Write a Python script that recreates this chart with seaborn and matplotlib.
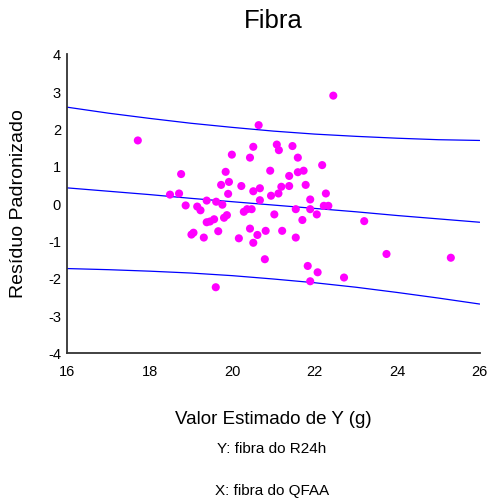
import numpy as np
import pandas as pd
import matplotlib
matplotlib.use("Agg")
import matplotlib.pyplot as plt
import seaborn as sns

# Estimated value of Y (g) and standardized residual for each subject
valor_estimado = [17.71, 18.49, 18.71, 18.76, 18.87, 19.01, 19.06, 19.15, 19.23, 19.31,
                  19.38, 19.38, 19.46, 19.56, 19.60, 19.61, 19.66, 19.73, 19.76, 19.80,
                  19.87, 19.84, 19.90, 19.92, 19.99, 20.16, 20.22, 20.28, 20.36, 20.47,
                  20.43, 20.43, 20.51, 20.51, 20.51, 20.61, 20.64, 20.67, 20.67, 20.79,
                  20.81, 20.92, 20.94, 21.02, 21.08, 21.12, 21.13, 21.19, 21.21, 21.38,
                  21.38, 21.46, 21.54, 21.54, 21.59, 21.59, 21.70, 21.73, 21.78, 21.83,
                  21.89, 21.89, 21.89, 22.05, 22.07, 22.18, 22.22, 22.27, 22.33, 22.45,
                  22.71, 23.20, 23.74, 25.30]
residuo = [1.68, 0.23, 0.26, 0.78, -0.06, -0.84, -0.79, -0.09, -0.19, -0.92,
           0.07, -0.51, -0.49, -0.43, -2.25, 0.04, -0.75, 0.49, -0.04, -0.39,
           -0.32, 0.84, 0.25, 0.57, 1.30, -0.94, 0.46, -0.23, -0.16, -0.16,
           1.22, -0.68, 1.51, 0.32, -1.06, -0.85, 2.09, 0.40, 0.08, -1.50,
           -0.74, 0.87, 0.20, -0.30, 1.57, 0.26, 1.42, 0.44, -0.74, 0.73,
           0.46, 1.53, -0.16, -0.92, 1.22, 0.83, -0.45, 0.87, 0.49, -1.68,
           0.10, -0.16, -2.09, -0.30, -1.85, 1.02, -0.07, 0.26, -0.07, 2.88,
           -1.99, -0.48, -1.36, -1.46]

# Fitted line and prediction limits
linha_x = [16, 17, 18, 19, 20, 21, 22, 23, 24, 25, 26]
linha_ajuste = [0.41, 0.32, 0.23, 0.13, 0.04, -0.05, -0.14, -0.23, -0.33, -0.42, -0.51]
limite_sup = [2.57, 2.41, 2.27, 2.14, 2.03, 1.93, 1.85, 1.79, 1.74, 1.70, 1.68]
limite_inf = [-1.75, -1.78, -1.82, -1.87, -1.94, -2.03, -2.13, -2.25, -2.39, -2.54, -2.70]

x_ticks = [16, 18, 20, 22, 24, 26]
y_ticks = [-4, -3, -2, -1, 0, 1, 2, 3, 4]

sns.set_theme(style="white")
plt.rcParams["font.family"] = ["Liberation Sans", "DejaVu Sans"]
plt.rcParams["text.color"] = "black"

fig = plt.figure(figsize=(4.89, 5.02), dpi=100)
ax = fig.add_axes([67.3 / 489, 1 - 353.6 / 502, (479.7 - 67.3) / 489, (353.6 - 54.8) / 502])

pontos = pd.DataFrame({"x": valor_estimado, "y": residuo})
linhas = pd.DataFrame({"x": linha_x, "ajuste": linha_ajuste,
                       "sup": limite_sup, "inf": limite_inf})

for col in ["sup", "ajuste", "inf"]:
    sns.lineplot(data=linhas, x="x", y=col, ax=ax, color="#0000FF", linewidth=0.9)

sns.scatterplot(data=pontos, x="x", y="y", ax=ax, color="#FF00FF", s=34,
                edgecolor="none", linewidth=0, zorder=3)

ax.set_xlim(16, 26)
ax.set_ylim(-4, 4)
ax.set_xticks(x_ticks)
ax.set_yticks(y_ticks)
ax.set_xticklabels([str(v) for v in x_ticks], fontsize=10.5)
ax.set_yticklabels([str(v) for v in y_ticks], fontsize=10.5)
ax.set_xlabel("")
ax.set_ylabel("")

for side in ["top", "right"]:
    ax.spines[side].set_visible(False)
for side in ["left", "bottom"]:
    ax.spines[side].set_color("#333333")
    ax.spines[side].set_linewidth(1.3)
ax.tick_params(axis="both", direction="out", length=2.5, width=1.8,
               color="black", labelcolor="black")
ax.tick_params(axis="y", pad=2)
ax.tick_params(axis="x", pad=6)

fig.text(273.5 / 489, 1 - 21 / 502, "Fibra", ha="center", va="center",
         fontsize=18.5, color="black")
fig.text(19 / 489, 1 - 204 / 502, "Resíduo Padronizado", ha="center", va="center",
         rotation=90, fontsize=14, color="black")
fig.text(273.5 / 489, 1 - 419 / 502, "Valor Estimado de Y (g)", ha="center",
         va="center", fontsize=13.5, color="black")
fig.text(272 / 489, 1 - 449 / 502, "Y: fibra do R24h", ha="center", va="center",
         fontsize=11, color="black")
fig.text(272.5 / 489, 1 - 491 / 502, "X: fibra do QFAA", ha="center", va="center",
         fontsize=11, color="black")

fig.savefig("out.png", dpi=100)
